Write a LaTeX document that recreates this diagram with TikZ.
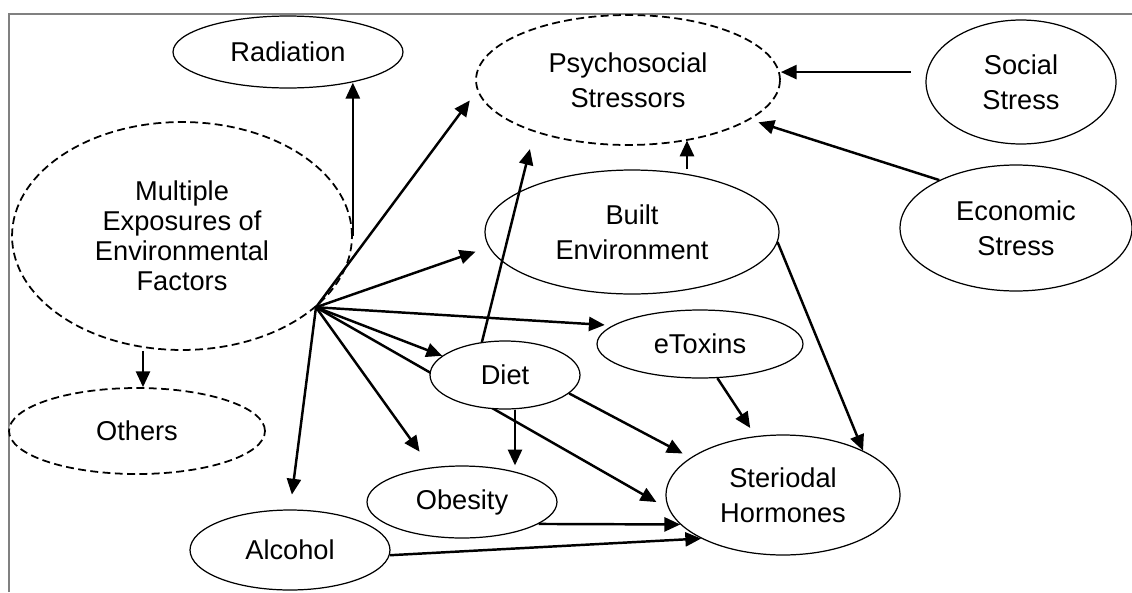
\documentclass[tikz,border=0pt]{standalone}
\usepackage{fontspec}
\setmainfont{Liberation Sans}
\usepackage{tikz}
\usetikzlibrary{shapes.geometric,arrows.meta,backgrounds}

\begin{document}
\begin{tikzpicture}[x=0.02cm,y=-0.02cm,
  oval/.style={ellipse,draw,line width=0.7pt,fill=white,inner sep=0pt,align=center,
    font=\fontsize{15.5}{20}\selectfont},
  dashoval/.style={oval,line width=1pt,dash pattern=on 4.5pt off 2.5pt},
  arr/.style={line width=1.4pt,-{Triangle[length=9pt,width=8pt]}}]
\useasboundingbox (0,0) rectangle (1132,592);
% frame
\draw[gray,line width=0.6pt] (9,592) -- (9,14) -- (1132,14);
% factors
\node[dashoval,minimum width=6.8cm,minimum height=4.56cm,font=\fontsize{15.5}{17}\selectfont] (mult) at (182,236) {Multiple\\Exposures of\\Environmental\\Factors};
\node[oval,minimum width=4.6cm,minimum height=1.44cm] (rad) at (288,52) {Radiation};
\node[dashoval,minimum width=5.12cm,minimum height=1.72cm] (oth) at (137,431) {Others};
\node[dashoval,minimum width=6.08cm,minimum height=2.6cm] (psy) at (628,80) {Psychosocial\\Stressors};
\node[oval,minimum width=3.8cm,minimum height=2.48cm] (soc) at (1021,82) {Social\\Stress};
\node[oval,minimum width=4.64cm,minimum height=2.52cm] (econ) at (1016,228) {Economic\\Stress};
\node[oval,minimum width=5.88cm,minimum height=2.48cm] (built) at (632,232) {Built\\Environment};
\node[oval,minimum width=4.12cm,minimum height=1.36cm] (etox) at (700,344) {eToxins};
\node[oval,minimum width=3cm,minimum height=1.36cm] (diet) at (505,375) {Diet};
\node[oval,minimum width=3.8cm,minimum height=1.44cm] (ob) at (462,502) {Obesity};
\node[oval,minimum width=4cm,minimum height=1.6cm] (alc) at (290,550) {Alcohol};
\node[oval,minimum width=4.68cm,minimum height=2.4cm] (ster) at (783,495) {Steriodal\\Hormones};
\coordinate (hub) at (mult.-28);
% arrows out of the exposures
\draw[arr] (mult.east) -- (mult.east |- rad.-26);
\draw[arr] ([xshift=-0.78cm]mult.south) -- ([xshift=-0.78cm]mult.south |- oth.north);
\draw[arr,shorten >=7pt] (hub) -- (psy.184);
\draw[arr,shorten >=8pt] (hub) -- (built.186);
\draw[arr,shorten >=4.5pt] (hub) -- (etox.168);
\draw[arr] (hub) -- (diet.163);
\draw[arr,shorten >=11pt] (hub) -- (ob.132);
\draw[arr,shorten >=8.5pt] (hub) -- (alc.north);
\begin{scope}[on background layer]
\draw[arr,shorten >=8pt] (hub) -- (ster.187);
\end{scope}
% stressors
\draw[arr,shorten <=9pt] (soc.174) -- (soc.174 -| psy.east);
\draw[arr,shorten >=5pt] (econ.148) -- (psy.-18);
\draw[arr] ([xshift=1.1cm]built.north) -- ([xshift=1.1cm]built.north |- psy.-45);
\draw[arr,shorten >=10pt] (diet.125) -- (psy.209);
% into the hormones
\draw[arr] ([xshift=0.2cm]diet.south) -- ([xshift=0.2cm]diet.south |- ob.north);
\draw[arr,shorten >=5pt] (diet.-16) -- (ster.158);
\draw[arr,shorten >=5.5pt] (etox.-63) -- (ster.115);
\draw[arr] (built.-4) -- (ster.29);
\draw[arr] (ob.-16) -- (ster.196);
\draw[arr] (alc.-3) -- (ster.208);
\end{tikzpicture}
\end{document}
